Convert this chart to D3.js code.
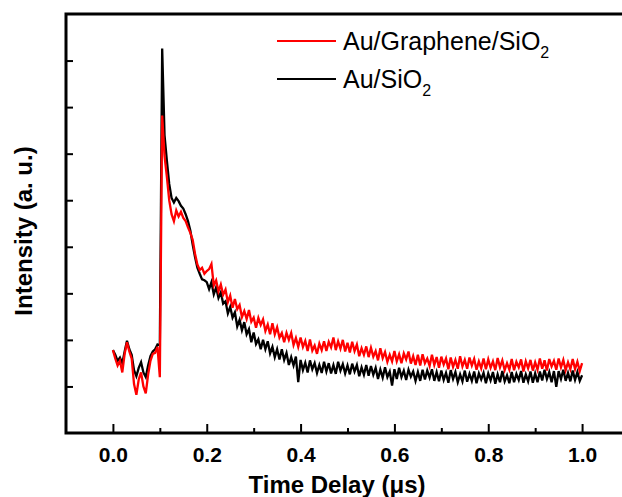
<!DOCTYPE html>
<html>
<head>
<meta charset="utf-8">
<script src="https://cdn.jsdelivr.net/npm/d3@7"></script>
<style>
  html, body { margin: 0; padding: 0; background: #ffffff; }
  svg { display: block; }
  text { font-family: "Liberation Sans", Arial, sans-serif; }
</style>
</head>
<body>
<svg id="chart" width="622" height="497"></svg>
<script>
// ---- data ----
const tStart = 0;      // μs
const tStep = 0.005;   // μs sampling interval of the traces

const seriesNames = ["Au/Graphene/SiO", "Au/SiO"];
const seriesColors = ["#ff0000", "#000000"];

const auGrapheneSiO2 = [
  1.78,1.60,1.45,1.55,1.30,1.70,1.95,1.75,1.60,1.05,
  0.82,1.15,1.30,1.00,0.85,1.25,1.55,1.70,1.72,1.85,
  1.20,6.82,5.95,5.50,5.00,4.70,4.55,4.78,4.65,4.75,
  4.62,4.55,4.42,4.30,4.15,3.85,3.62,3.50,3.55,3.42,
  3.48,3.52,3.63,3.17,3.28,3.04,3.19,2.97,3.08,2.81,
  2.95,2.69,2.88,2.66,2.75,2.49,2.62,2.45,2.64,2.39,
  2.48,2.26,2.47,2.32,2.44,2.19,2.33,2.12,2.36,2.12,
  2.27,2.05,2.15,1.95,2.15,2.00,2.15,1.89,2.04,1.85,
  2.05,1.85,1.98,1.76,2.01,1.77,1.88,1.70,1.92,1.78,
  1.97,1.76,1.96,1.84,2.05,1.78,1.97,1.81,2.00,1.75,
  1.94,1.73,1.96,1.76,1.90,1.65,1.82,1.68,1.86,1.63,
  1.83,1.64,1.76,1.56,1.82,1.61,1.74,1.53,1.68,1.54,
  1.76,1.54,1.69,1.50,1.71,1.58,1.75,1.49,1.65,1.46,
  1.68,1.45,1.69,1.50,1.60,1.44,1.68,1.46,1.63,1.40,
  1.64,1.47,1.60,1.37,1.62,1.42,1.57,1.38,1.65,1.43,
  1.57,1.38,1.62,1.45,1.59,1.36,1.54,1.39,1.60,1.37,
  1.58,1.40,1.54,1.35,1.61,1.41,1.56,1.35,1.50,1.36,
  1.59,1.35,1.53,1.41,1.58,1.32,1.54,1.39,1.57,1.34,
  1.52,1.36,1.60,1.38,1.56,1.34,1.59,1.43,1.55,1.36,
  1.60,1.41,1.57,1.35,1.52,1.37,1.59,1.37,1.53,1.33,
  1.50
];

const auSiO2 = [
  1.78,1.68,1.55,1.62,1.50,1.75,1.98,1.80,1.68,1.35,
  1.22,1.40,1.52,1.30,1.20,1.45,1.65,1.75,1.80,1.90,
  1.88,8.26,6.40,5.85,5.35,5.05,4.95,5.05,4.98,4.88,
  4.82,4.70,4.55,4.35,4.05,3.78,3.55,3.42,3.30,3.28,
  3.24,3.09,3.24,2.98,3.13,2.90,3.02,2.78,2.83,2.57,
  2.71,2.48,2.59,2.29,2.43,2.21,2.38,2.12,2.23,1.95,
  2.16,1.91,2.01,1.80,2.00,1.80,1.97,1.71,1.85,1.63,
  1.80,1.58,1.80,1.57,1.72,1.46,1.63,1.45,1.64,1.09,
  1.57,1.35,1.51,1.30,1.56,1.37,1.50,1.29,1.46,1.29,
  1.53,1.32,1.50,1.28,1.46,1.27,1.53,1.34,1.48,1.28,
  1.45,1.26,1.49,1.32,1.46,1.22,1.41,1.25,1.46,1.23,
  1.44,1.25,1.40,1.16,1.36,1.19,1.41,1.20,1.32,1.02,
  1.37,1.16,1.40,1.20,1.34,1.14,1.36,1.21,1.32,1.12,
  1.31,1.12,1.36,1.15,1.34,1.19,1.37,1.12,1.31,1.11,
  1.34,1.14,1.29,1.08,1.35,1.16,1.31,1.09,1.26,1.11,
  1.34,1.10,1.27,1.12,1.32,1.07,1.28,1.15,1.29,1.07,
  1.28,1.13,1.31,1.06,1.26,1.09,1.33,1.11,1.24,1.07,
  1.31,1.09,1.27,1.14,1.33,1.08,1.26,1.11,1.32,1.08,
  1.28,1.09,1.32,1.13,1.36,1.16,1.31,1.09,1.33,0.99,
  1.33,1.16,1.36,1.12,1.29,1.11,1.34,1.14,1.31,1.12,
  1.24
];

const xMajorTicks = [0, 0.2, 0.4, 0.6, 0.8, 1.0];
const xMajorLabels = ["0.0", "0.2", "0.4", "0.6", "0.8", "1.0"];
const xMinorTicks = [0.1, 0.3, 0.5, 0.7, 0.9];
const yTicks = [1, 2, 3, 4, 5, 6, 7, 8];

const xTitle = "Time Delay (\u03bcs)";
const yTitle = "Intensity (a. u.)";

// ---- drawing ----
(function () {
const svg = d3.select("#chart");
const pLeft = 66, pRight = 629, pTop = 14, pBottom = 433;

const x = d3.scaleLinear().domain([-0.1, 1.1]).range([pLeft, pRight]);
const y = d3.scaleLinear().domain([0, 9]).range([pBottom, pTop]);

svg.append("defs").append("clipPath").attr("id", "plotclip")
  .append("rect").attr("x", pLeft).attr("y", pTop)
  .attr("width", pRight - pLeft).attr("height", pBottom - pTop);

const times = auSiO2.map((_, i) => tStart + i * tStep);

const line = d3.line()
  .x((d, i) => x(times[i]))
  .y(d => y(d));

const plot = svg.append("g").attr("clip-path", "url(#plotclip)");
// black first, red on top
plot.append("path").datum(auSiO2)
  .attr("fill", "none").attr("stroke", seriesColors[1])
  .attr("stroke-width", 2.3).attr("stroke-linejoin", "miter")
  .attr("d", line);
plot.append("path").datum(auGrapheneSiO2)
  .attr("fill", "none").attr("stroke", seriesColors[0])
  .attr("stroke-width", 2.3).attr("stroke-linejoin", "miter")
  .attr("d", line);

// axes (ticks pointing inward)
const xAxis = d3.axisBottom(x).tickValues(xMajorTicks)
  .tickSizeInner(-9).tickSizeOuter(0).tickPadding(14)
  .tickFormat((d, i) => xMajorLabels[i]);
const gx = svg.append("g").attr("transform", `translate(0,${pBottom})`).call(xAxis);
gx.select(".domain").remove();
gx.selectAll(".tick line").attr("stroke", "#000").attr("stroke-width", 2);
gx.selectAll(".tick text")
  .attr("font-size", 21).attr("font-weight", "bold")
  .attr("font-family", "'Liberation Sans', Arial, sans-serif")
  .attr("fill", "#000");

const xMinor = d3.axisBottom(x).tickValues(xMinorTicks)
  .tickSizeInner(-5).tickSizeOuter(0).tickFormat("");
const gxm = svg.append("g").attr("transform", `translate(0,${pBottom})`).call(xMinor);
gxm.select(".domain").remove();
gxm.selectAll(".tick line").attr("stroke", "#000").attr("stroke-width", 2);

const yAxis = d3.axisLeft(y).tickValues(yTicks)
  .tickSizeInner(-7).tickSizeOuter(0).tickFormat("");
const gy = svg.append("g").attr("transform", `translate(${pLeft},0)`).call(yAxis);
gy.select(".domain").remove();
gy.selectAll(".tick line").attr("stroke", "#000").attr("stroke-width", 2);

// frame
svg.append("path")
  .attr("d", `M${pRight},${pTop}H${pLeft}V${pBottom}H${pRight}`)
  .attr("fill", "none").attr("stroke", "#000").attr("stroke-width", 3)
  .attr("stroke-linecap", "square");

// titles
svg.append("text")
  .attr("x", 337).attr("y", 493)
  .attr("text-anchor", "middle")
  .attr("font-size", 24).attr("font-weight", "bold")
  .text(xTitle);

svg.append("text")
  .attr("transform", `translate(32,231) rotate(-90)`)
  .attr("text-anchor", "middle")
  .attr("font-size", 24).attr("font-weight", "bold")
  .text(yTitle);

// legend
const legendY = [41, 79];
seriesNames.forEach((name, i) => {
  svg.append("line")
    .attr("x1", 277).attr("x2", 336)
    .attr("y1", legendY[i]).attr("y2", legendY[i])
    .attr("stroke", seriesColors[i]).attr("stroke-width", 2);
  const t = svg.append("text")
    .attr("x", 343).attr("y", legendY[i] + 9)
    .attr("font-size", 25).attr("fill", "#000");
  t.append("tspan").text(name);
  t.append("tspan").attr("font-size", 16).attr("dy", 8).text("2");
});
})();
</script>
</body>
</html>
